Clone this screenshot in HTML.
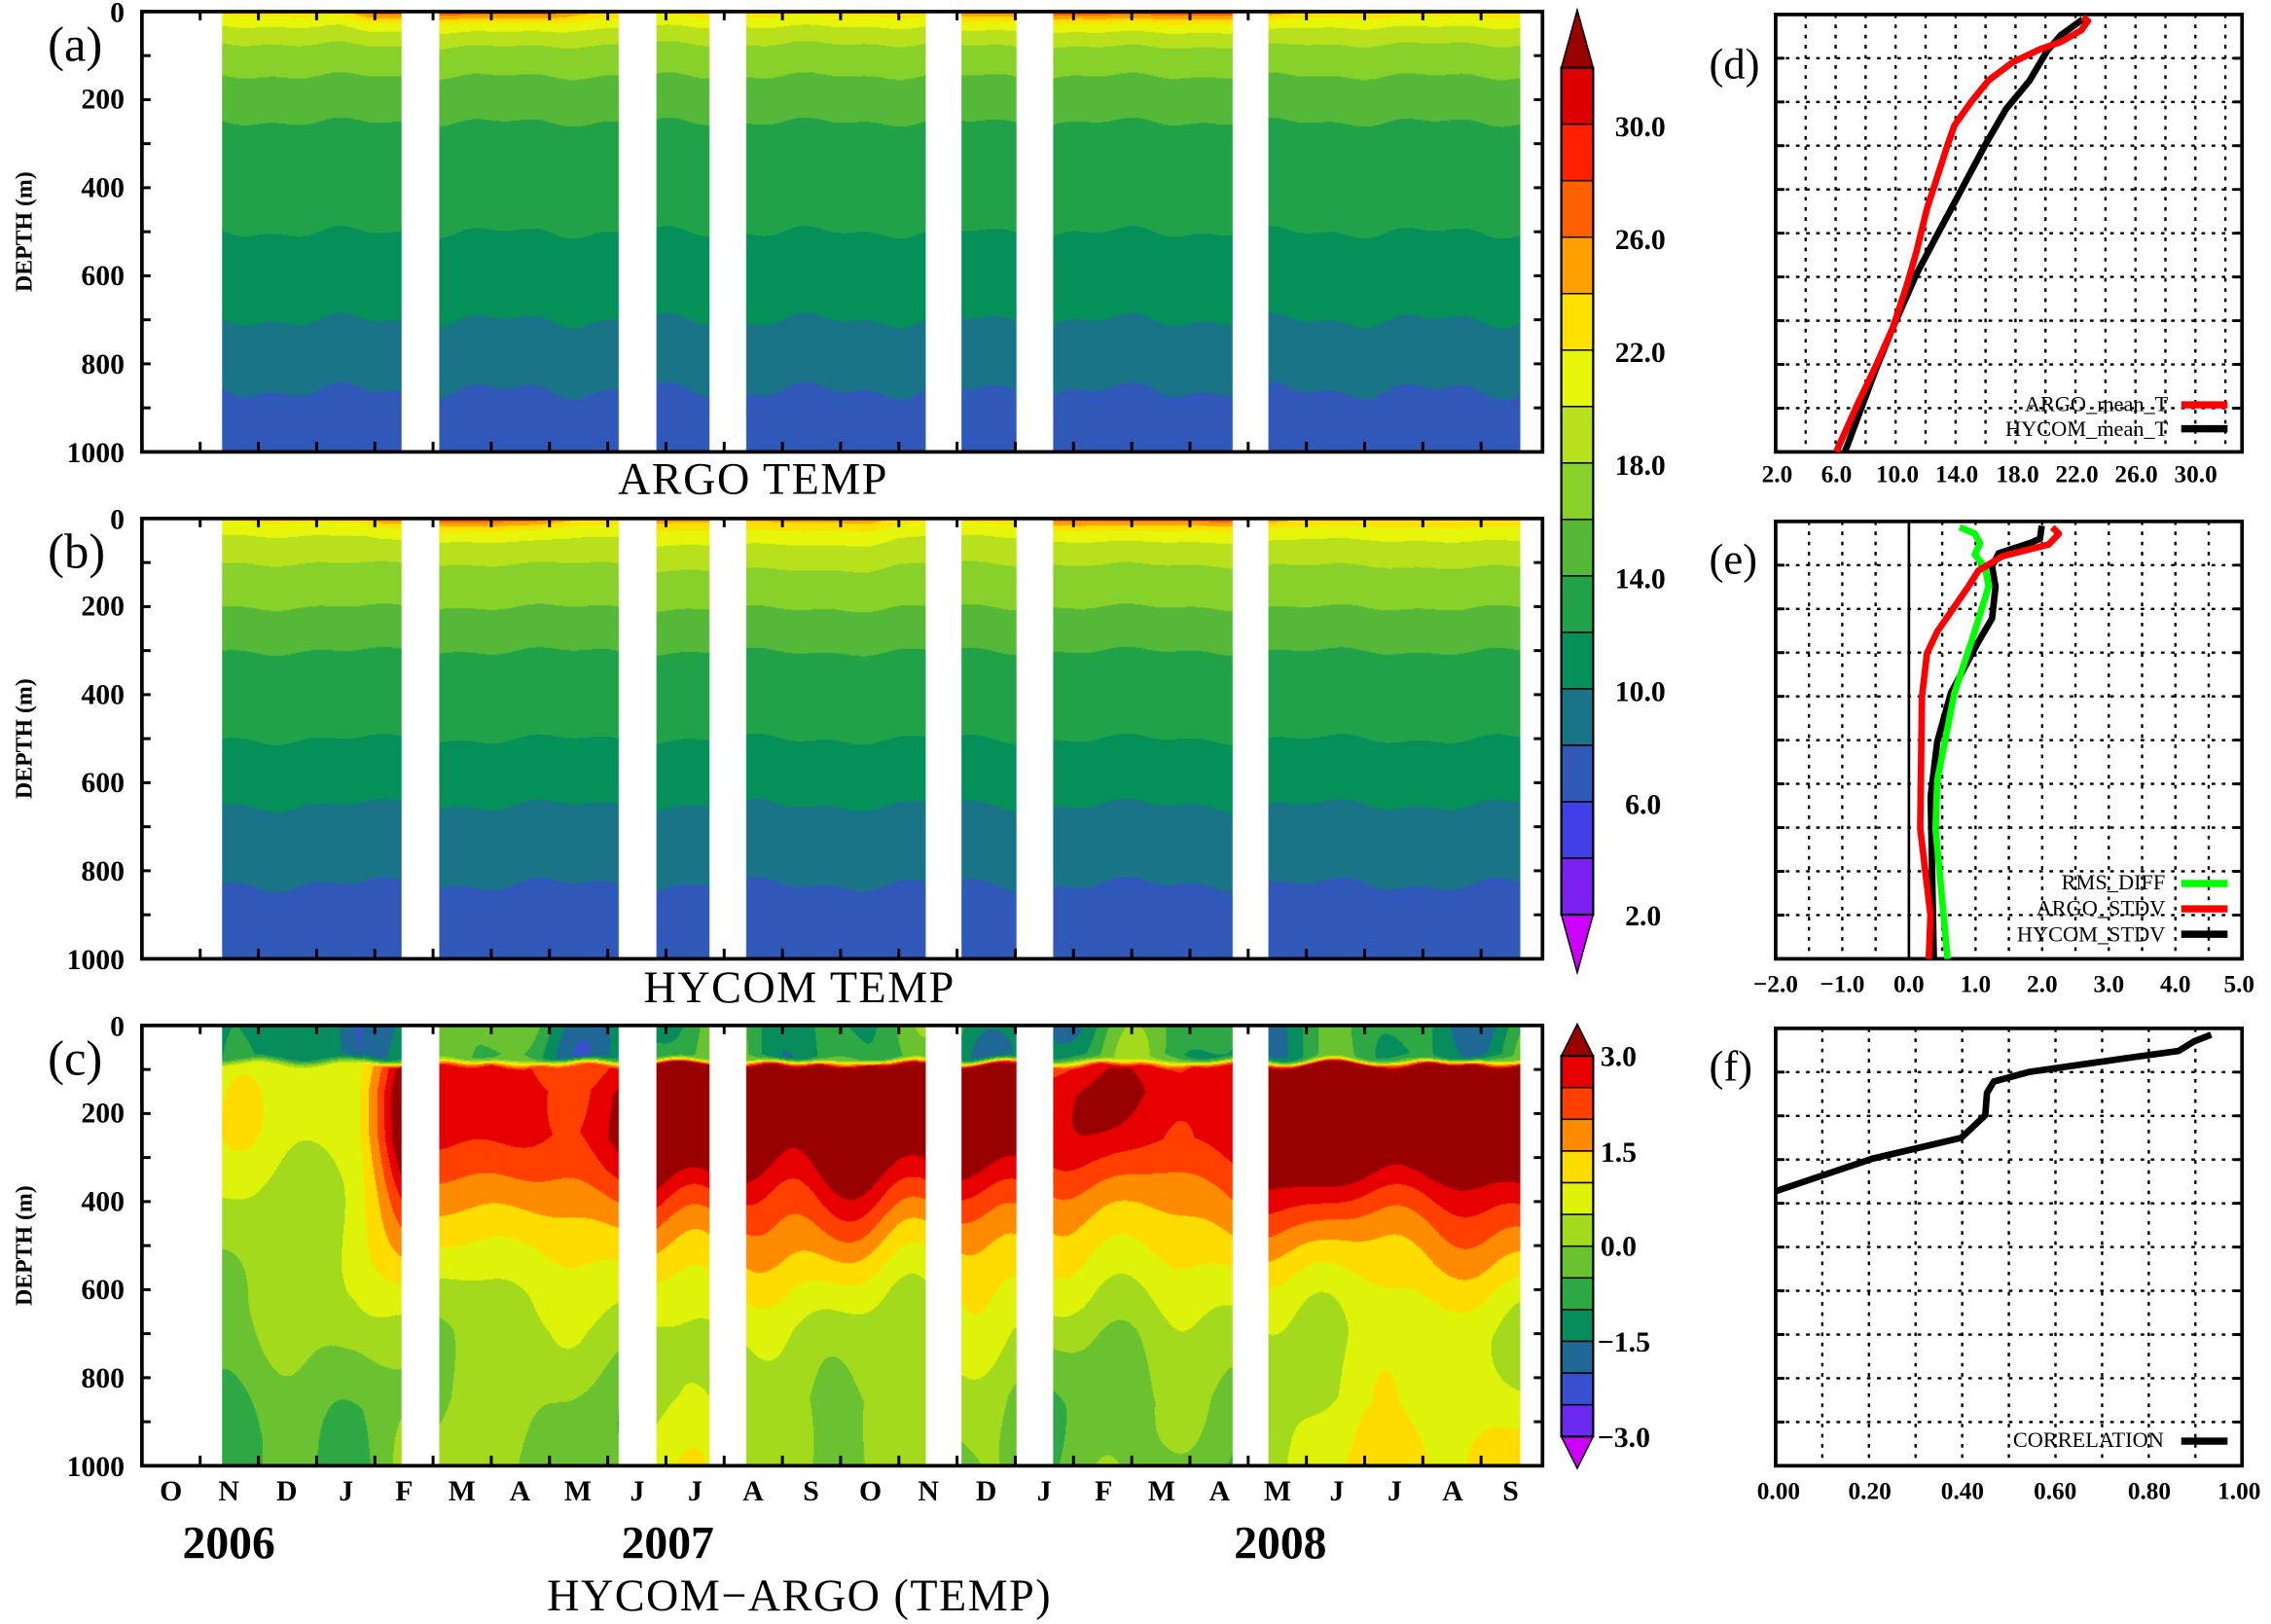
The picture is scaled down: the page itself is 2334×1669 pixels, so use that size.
<!DOCTYPE html>
<html><head><meta charset="utf-8">
<style>
html,body{margin:0;padding:0;background:#fff;}
#wrap{position:relative;width:2334px;height:1669px;overflow:hidden;background:#fff;}
#inner{position:absolute;left:0;top:0;width:1568px;height:1121px;transform:scale(1.48852);transform-origin:0 0;}
canvas{position:absolute;}
svg{position:absolute;left:0;top:0;}
.tk{font-family:"Liberation Serif",serif;font-weight:bold;font-size:20px;fill:#000;}
.sm{font-family:"Liberation Serif",serif;font-weight:bold;font-size:17px;fill:#000;}
.ttl{font-family:"Liberation Serif",serif;font-size:31px;fill:#000;letter-spacing:1px;}
.pl{font-family:"Liberation Serif",serif;font-size:34px;fill:#000;}
.lg{font-family:"Liberation Serif",serif;font-size:15px;fill:#000;}
</style></head><body>
<div id="wrap"><div id="inner">
<canvas id="ca" style="left:98px;top:8px;width:967px;height:304px"></canvas>
<canvas id="cb" style="left:98px;top:358px;width:967px;height:304px"></canvas>
<canvas id="cc" style="left:98px;top:708px;width:967px;height:304px"></canvas>
<svg id="sv" width="1568" height="1121" viewBox="0 0 1568 1121">
<g id="gen"></g>
<text class="pl" x="33" y="42">(a)</text>
<text class="pl" x="33" y="392">(b)</text>
<text class="pl" x="33" y="742">(c)</text>
<text class="pl" x="1180" y="54" style="font-size:30px">(d)</text>
<text class="pl" x="1180" y="396" style="font-size:30px">(e)</text>
<text class="pl" x="1180" y="746" style="font-size:30px">(f)</text>
<g class="tk" text-anchor="end">
<text x="86" y="15">0</text><text x="86" y="75">200</text><text x="86" y="136">400</text><text x="86" y="197">600</text><text x="86" y="258">800</text><text x="86" y="319">1000</text>
<text x="86" y="365">0</text><text x="86" y="425">200</text><text x="86" y="486">400</text><text x="86" y="547">600</text><text x="86" y="608">800</text><text x="86" y="669">1000</text>
<text x="86" y="715">0</text><text x="86" y="775">200</text><text x="86" y="836">400</text><text x="86" y="897">600</text><text x="86" y="958">800</text><text x="86" y="1019">1000</text>
</g>
<g style="font-family:'Liberation Serif',serif;font-weight:bold;font-size:16px" text-anchor="middle">
<text transform="translate(22,160) rotate(-90)">DEPTH (m)</text>
<text transform="translate(22,510) rotate(-90)">DEPTH (m)</text>
<text transform="translate(22,860) rotate(-90)">DEPTH (m)</text>
</g>
<g class="tk" text-anchor="middle">
<text x="118" y="1036">O</text><text x="158" y="1036">N</text><text x="198" y="1036">D</text><text x="239" y="1036">J</text><text x="279" y="1036">F</text><text x="319" y="1036">M</text><text x="359" y="1036">A</text><text x="399" y="1036">M</text><text x="440" y="1036">J</text><text x="480" y="1036">J</text><text x="520" y="1036">A</text><text x="560" y="1036">S</text><text x="601" y="1036">O</text><text x="641" y="1036">N</text><text x="681" y="1036">D</text><text x="721" y="1036">J</text><text x="762" y="1036">F</text><text x="802" y="1036">M</text><text x="842" y="1036">A</text><text x="882" y="1036">M</text><text x="923" y="1036">J</text><text x="963" y="1036">J</text><text x="1003" y="1036">A</text><text x="1043" y="1036">S</text>
</g>
<g class="tk" text-anchor="middle" style="font-size:32px">
<text x="158" y="1076">2006</text><text x="461" y="1076">2007</text><text x="884" y="1076">2008</text>
</g>
<g class="ttl" text-anchor="middle">
<text x="520" y="341">ARGO TEMP</text>
<text x="552" y="692">HYCOM TEMP</text>
<text x="552" y="1112">HYCOM−ARGO (TEMP)</text>
</g>
<g class="tk" text-anchor="end">
<text x="1150" y="94">30.0</text><text x="1150" y="172">26.0</text><text x="1150" y="250">22.0</text><text x="1150" y="328">18.0</text><text x="1150" y="406">14.0</text><text x="1150" y="484">10.0</text><text x="1147" y="562">6.0</text><text x="1147" y="639">2.0</text>
</g>
<g class="tk">
<text x="1105" y="736">3.0</text><text x="1105" y="802">1.5</text><text x="1105" y="867">0.0</text><text x="1103" y="933">−1.5</text><text x="1103" y="999">−3.0</text>
</g>
<g class="sm" text-anchor="middle">
<text x="1227" y="333">2.0</text><text x="1268" y="333">6.0</text><text x="1310" y="333">10.0</text><text x="1351" y="333">14.0</text><text x="1393" y="333">18.0</text><text x="1434" y="333">22.0</text><text x="1475" y="333">26.0</text><text x="1516" y="333">30.0</text>
<text x="1226" y="685">−2.0</text><text x="1272" y="685">−1.0</text><text x="1318" y="685">0.0</text><text x="1364" y="685">1.0</text><text x="1410" y="685">2.0</text><text x="1456" y="685">3.0</text><text x="1502" y="685">4.0</text><text x="1546" y="685">5.0</text>
<text x="1228" y="1035">0.00</text><text x="1291" y="1035">0.20</text><text x="1355" y="1035">0.40</text><text x="1419" y="1035">0.60</text><text x="1484" y="1035">0.80</text><text x="1546" y="1035">1.00</text>
</g>
<g class="lg" text-anchor="end">
<text x="1497" y="284">ARGO_mean_T</text><text x="1497" y="301">HYCOM_mean_T</text>
<text x="1495" y="614">RMS_DIFF</text><text x="1495" y="632">ARGO_STDV</text><text x="1495" y="650">HYCOM_STDV</text>
<text x="1494" y="999">CORRELATION</text>
</g>
</svg>
</div></div>
<script>
const SEG=[[153,277],[303,427],[453,490],[515,639],[664,702],[727,851],[876,1050]];
const TC=['#cc00ff','#7b22f2','#4040e6','#3058b8','#1a7488','#05905a','#22a248','#55b838','#88d02a','#b8e01c','#e6f50a','#ffe000','#ffa000','#ff5f00','#ff2000','#dd0000','#990000'];
const DC=['#cc00ff','#6a2af0','#3a4ed0','#1f6896','#078c5e','#2ea844','#6ac230','#a4da1e','#def20a','#ffdc00','#ff8c00','#ff4000','#e60000','#990000'];
function hx(c){return [parseInt(c.substr(1,2),16),parseInt(c.substr(3,2),16),parseInt(c.substr(5,2),16)];}
const TCr=TC.map(hx),DCr=DC.map(hx);
function ip(p,v){if(v<=p[0][0])return p[0][1];for(let i=1;i<p.length;i++){if(v<=p[i][0]){const a=p[i-1],b=p[i];return a[1]+(b[1]-a[1])*(v-a[0])/(b[0]-a[0]);}}return p[p.length-1][1];}
function sst(a,b,v){let t=Math.min(1,Math.max(0,(v-a)/(b-a)));return t*t*(3-2*t);}
const PA=[[0,21.6],[25,20],[70,18],[145,16],[250,14],[500,12],[700,10],[860,8],[1000,6.6]];
const PB=[[0,21.6],[30,20],[100,18],[200,16],[300,14],[500,12],[650,10],[830,8],[1000,6.6]];
const WA=[[153,1.2],[235,1.5],[255,5.5],[277,6],[303,6.5],[380,6],[400,3],[427,2.5],[453,1.5],[639,1.5],[664,5],[702,5],[727,6.5],[851,6.5],[876,4.5],[900,2],[1050,1.5]];
const WB=[[153,1],[250,1.5],[265,5],[277,5],[303,6.5],[370,6],[400,2.5],[427,2],[453,2],[600,2],[639,1],[664,1.5],[702,1.5],[727,6],[851,6],[876,4],[900,2],[1050,1.5]];
const MB=[[153,0],[440,0],[453,1.6],[600,1.6],[620,0.5],[660,0],[876,0.3],[1050,1]];
const AX=[[153,0.2],[245,0.22],[262,0.6],[277,1.0],[303,0.72],[427,0.78],[453,1.15],[490,1.15],[515,1.1],[639,1.0],[664,1.05],[702,1.0],[727,0.75],[851,0.8],[876,1.1],[1050,1.15]];
const BX=[[153,-0.7],[250,-0.5],[277,0.1],[303,0.1],[427,-0.2],[453,0.8],[490,0.6],[515,0.2],[639,0],[664,0],[702,0.1],[727,-0.35],[851,-0.2],[876,0.4],[940,1.1],[1050,1.2]];
const PP=[[70,0],[90,3.3],[150,3.7],[250,3.6],[320,3.0],[380,2.4],[450,1.8],[520,1.3],[600,0.8],[700,0.35],[850,0],[1000,0]];
function nz(x,d){return Math.sin(x/24+d/150)+0.6*Math.sin(x/11-d/230)+0.4*Math.sin(x/41+d/70);}
function fa(x,d){const sh=(10*Math.sin(x/17)+7*Math.sin(x/7.3+1))*(0.4+d/1000);return ip(PA,d+sh)+ip(WA,x)*Math.exp(-d/24);}
function fb(x,d){const sh=(9*Math.sin(x/21+2)+6*Math.sin(x/8.1))*(0.4+d/1000);return ip(PB,d+sh)+ip(WB,x)*Math.exp(-d/22)+ip(MB,x)*Math.exp(-d/70);}
function fc(x,d){const n=nz(x,d);
 const surf=-0.9+0.6*n+(x<250?-0.5:0);
 const A=ip(AX,x)*(1+0.06*Math.sin(x/13));
 const deep=A*ip(PP,d+10*Math.sin(x/12))+ip(BX,x)*sst(600,1000,d)+0.22*n;
 const t=sst(65,92,d+6*Math.sin(x/9));
 return surf*(1-t)+deep*t;}
function draw(id,f,cols,lo,st){
 const c=document.getElementById(id);const S=1.5;const W=Math.round(967*S),H=Math.round(304*S);
 c.width=W;c.height=H;const g=c.getContext('2d');const im=g.createImageData(W,H);const D=im.data;
 for(let px=0;px<W;px++){const x=98+px/S;let inS=false;for(const s of SEG){if(x>=s[0]&&x<s[1]){inS=true;break;}}
  for(let py=0;py<H;py++){const k=(py*W+px)*4;
   if(!inS){D[k]=D[k+1]=D[k+2]=255;D[k+3]=255;continue;}
   const d=py/S/0.304;const v=f(x,d);let i=Math.floor((v-lo)/st)+1;if(i<0)i=0;if(i>cols.length-1)i=cols.length-1;
   const col=cols[i];D[k]=col[0];D[k+1]=col[1];D[k+2]=col[2];D[k+3]=255;}}
 g.putImageData(im,0,0);}
draw('ca',fa,TCr,2,2);draw('cb',fb,TCr,2,2);draw('cc',fc,DCr,-3,0.5);
const NS='http://www.w3.org/2000/svg';const G=document.getElementById('gen');
function el(t,a){const e=document.createElementNS(NS,t);for(const k in a)e.setAttribute(k,a[k]);G.appendChild(e);return e;}
for(const top of [8,358,708]){
 for(let k=1;k<10;k++){const y=top+k*30.4;el('line',{x1:98,y1:y,x2:104,y2:y,stroke:'#000','stroke-width':2});el('line',{x1:1059,y1:y,x2:1065,y2:y,stroke:'#000','stroke-width':2});}
 for(let k=1;k<24;k++){const x=98+k*40.2;el('line',{x1:x,y1:top,x2:x,y2:top+6,stroke:'#000','stroke-width':2});el('line',{x1:x,y1:top+304,x2:x,y2:top+297,stroke:'#000','stroke-width':2});}
 el('rect',{x:98,y:top,width:967,height:304,fill:'none',stroke:'#000','stroke-width':2.5});
}
function cbar(y0,bh,cols,tri){
 const n=cols.length-2;
 for(let i=0;i<n;i++){const y=y0+i*bh;el('rect',{x:1078,y:y,width:22,height:bh,fill:cols[n-i],stroke:'#000','stroke-width':1});}
 el('polygon',{points:`1078,${y0} 1100,${y0} 1089,${y0-tri}`,fill:cols[n+1],stroke:'#000','stroke-width':1});
 const yb=y0+n*bh;el('polygon',{points:`1078,${yb} 1100,${yb} 1089,${yb+tri}`,fill:cols[0],stroke:'#000','stroke-width':1});
 el('rect',{x:1078,y:y0,width:22,height:n*bh,fill:'none',stroke:'#000','stroke-width':1.5});
}
cbar(46.8,38.98,TC,40);cbar(729,21.9,DC,22);
function rpanel(top,vx){
 for(const x of vx)el('line',{x1:x,y1:top,x2:x,y2:top+302,stroke:'#000','stroke-width':1.6,'stroke-dasharray':'2.5,4.5'});
 for(let k=1;k<10;k++){const y=top+k*30.2;el('line',{x1:1226,y1:y,x2:1548,y2:y,stroke:'#000','stroke-width':1.6,'stroke-dasharray':'2.5,4.5'});
  el('line',{x1:1226,y1:y,x2:1232,y2:y,stroke:'#000','stroke-width':2});el('line',{x1:1542,y1:y,x2:1548,y2:y,stroke:'#000','stroke-width':2});}
 el('rect',{x:1226,y:top,width:322,height:302,fill:'none',stroke:'#000','stroke-width':2.5});
}
let vx=[];for(let k=1;k<=15;k++)vx.push(1226+k*20.7);rpanel(10,vx);
vx=[];for(let k=1;k<14;k++)vx.push(1226+k*23);rpanel(360,vx);
vx=[];for(let k=1;k<10;k++)vx.push(1226+k*32.2);rpanel(710,vx);
el('line',{x1:1318,y1:360,x2:1318,y2:662,stroke:'#000','stroke-width':1.8});
function pl(pts,c){el('polyline',{points:pts,fill:'none',stroke:c,'stroke-width':4.5,'stroke-linejoin':'round'});}
pl('1273.8,312 1295,255.4 1306.8,226.5 1323.4,188.8 1337.6,162 1351.8,135.5 1370.7,100 1384.9,75.5 1401.4,55.5 1413.2,35.5 1422.7,24.4 1438,13.3','#000');
pl('1267.8,312 1283.2,277.6 1295,253 1306.8,226.5 1316.3,197.7 1323.4,173 1330.5,144 1337.6,122 1344.7,100 1349.4,86.6 1361.2,70 1373,55.5 1389.6,43 1408.5,34 1422.7,29 1436.9,21 1441.6,14.4 1438,12','#f00');
pl('1409.7,363 1408.5,372 1401.4,375 1380,382 1375.4,391 1377.8,405 1375.4,427 1366,443 1347,478.5 1337.6,512 1333,550 1335.2,662','#000');
pl('1353,364 1363.6,368.5 1367,375 1363.6,383 1370.7,392 1373,405 1361.2,443 1349.4,478.5 1337.6,538.6 1336.4,572 1344.7,662','#0f0');
pl('1417,364 1421.5,368.5 1414.4,376 1382.5,384 1366,394 1359,405 1337.6,436 1330.5,451 1327,481 1325.8,572 1332.9,632 1331.7,662','#f00');
pl('1526.7,714.4 1514.9,719 1504.2,725.6 1465.2,731 1401.4,740 1376.6,746.7 1371.9,754.5 1370.7,770 1354.1,785.6 1292.7,800 1226.5,822.3','#000');
function lgl(y,c){el('line',{x1:1506,y1:y,x2:1538,y2:y,stroke:c,'stroke-width':5});}
lgl(279.5,'#f00');lgl(296,'#000');lgl(610,'#0f0');lgl(627.5,'#f00');lgl(645,'#000');lgl(995,'#000');
</script>
</body></html>
